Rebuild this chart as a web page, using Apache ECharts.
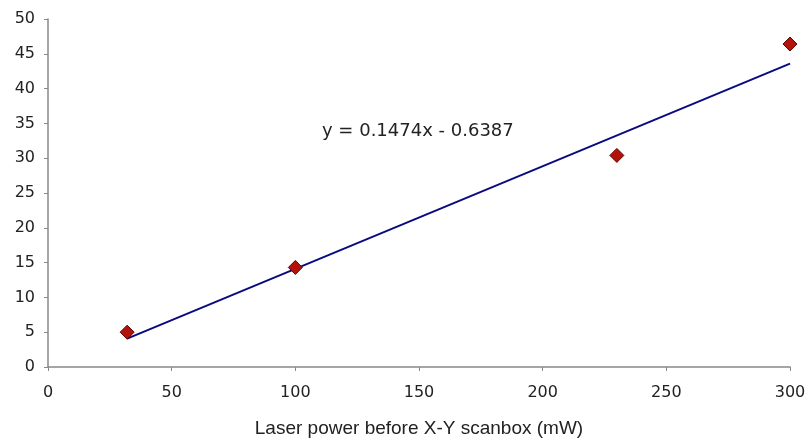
<!DOCTYPE html>
<html>
<head>
<meta charset="utf-8">
<script src="https://cdn.jsdelivr.net/npm/echarts@6/dist/echarts.min.js"></script>
<style>html,body{margin:0;padding:0;background:#fff;}#c{width:811px;height:440px;}</style>
</head>
<body>
<div id="c"></div>
<script>
const laserPower = [32, 100, 230, 300];
const measured = [5.0, 14.3, 30.4, 46.4];
const slope = 0.1474;
const intercept = -0.6387;
const trendX = [32, 300];
const equationText = 'y = 0.1474x - 0.6387';
const xAxisTitle = 'Laser power before X-Y scanbox (mW)';

const font = 'DejaVu Sans, Verdana, sans-serif';
const titleFont = 'Liberation Sans, Arial, sans-serif';
const chart = echarts.init(document.getElementById('c'));
chart.setOption({
  animation: false,
  backgroundColor: '#fff',
  grid: { left: 48, right: 21, top: 19, bottom: 73, containLabel: false, outerBoundsMode: 'none' },
  xAxis: {
    type: 'value', min: 0, max: 300, interval: 50,
    name: xAxisTitle, nameLocation: 'middle', nameGap: 52, nameMoveOverlap: false,
    nameTextStyle: { fontFamily: titleFont, fontSize: 19, color: '#222' },
    axisLine: { lineStyle: { color: '#888', width: 1.5 } },
    axisTick: { show: true, length: 4, inside: false, lineStyle: { color: '#888' } },
    axisLabel: { fontFamily: font, fontSize: 16, color: '#222', margin: 18 },
    splitLine: { show: false }
  },
  yAxis: {
    type: 'value', min: 0, max: 50, interval: 5,
    axisLine: { show: true, lineStyle: { color: '#888', width: 1.5 } },
    axisTick: { show: true, length: 4, inside: false, lineStyle: { color: '#888' } },
    axisLabel: { fontFamily: font, fontSize: 16, color: '#222', margin: 13 },
    splitLine: { show: false }
  },
  series: [
    {
      type: 'line',
      data: trendX.map(x => [x, slope * x + intercept]),
      symbol: 'none',
      lineStyle: { color: '#0a0a80', width: 2 },
      z: 2
    },
    {
      type: 'scatter',
      data: laserPower.map((x, i) => [x, measured[i]]),
      symbol: 'diamond',
      symbolSize: [14, 14],
      itemStyle: { color: '#b3130b', borderColor: '#5a0500', borderWidth: 1, opacity: 1 },
      z: 3
    }
  ],
  graphic: [{
    type: 'text', left: 322, top: 122,
    style: { text: equationText, font: '18px ' + font, fill: '#222' }
  }]
});
</script>
</body>
</html>
